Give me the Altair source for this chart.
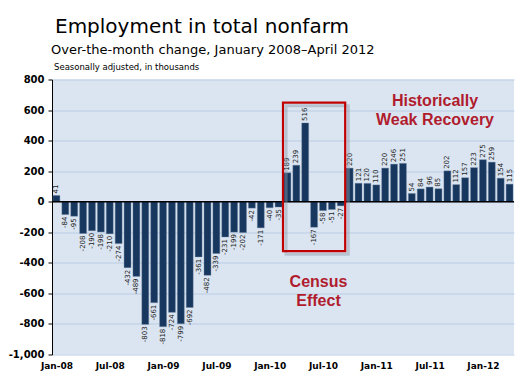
import altair as alt
import pandas as pd

# ---- data ----
months = list(pd.date_range("2008-01-01", periods=52, freq="MS").strftime("%b-%y"))
values = [41, -84, -95, -208, -190, -198, -210, -274, -432, -489, -803, -661,
          -818, -724, -799, -692, -361, -482, -339, -231, -199, -202, -42, -171,
          -40, -35, 189, 239, 516, -167, -58, -51, -27, 220, 121, 120,
          110, 220, 246, 251, 54, 84, 96, 85, 202, 112, 157, 223,
          275, 259, 154, 115]
tick_months = [m for m in months if m.startswith("Jan") or m.startswith("Jul")]
y_ticks = list(range(-1000, 801, 200))
box_months = ["Mar-10", "Sep-10"]
box_values = [-323, 648]

title_text = "Employment in total nonfarm"
subtitle_text = "Over-the-month change, January 2008\u2013April 2012"
note_text = "Seasonally adjusted, in thousands"
census_text = "Census\nEffect"
recovery_text = "Historically\nWeak Recovery"

df = pd.DataFrame({"i": range(len(months)), "month": months, "value": values})
df["label"] = df["value"].astype(str)
one = pd.DataFrame({"k": [0]})

tick_idx = [months.index(m) for m in tick_months]
label_arr = "[" + ",".join("'%s'" % m for m in tick_months) + "]"

W, H = 462, 275
xs = alt.Scale(domain=[-0.5, len(months) - 0.5], nice=False, zero=False)
ys = alt.Scale(domain=[-1000, 800], nice=False)

x_axis = alt.Axis(values=tick_idx, labelExpr=label_arr + "[indexof(" + str(tick_idx) + ", datum.value)]",
                  domain=False, ticks=False, grid=False, labelFont="DejaVu Sans",
                  labelFontWeight="bold", labelFontSize=9, labelColor="black",
                  labelPadding=7, title=None)
y_axis = alt.Axis(values=y_ticks, labelExpr="replace(format(datum.value, ','), '\u2212', '-')",
                  domain=True, domainColor="black", domainWidth=1, ticks=True,
                  tickColor="black", tickSize=4, grid=True, gridColor="#b9cce4",
                  gridWidth=1, labelFont="DejaVu Sans", labelFontWeight="bold",
                  labelFontSize=10, labelColor="black", labelPadding=4, title=None)


def X(field):
    return alt.X(field, scale=xs, axis=x_axis, title=None)


def Y(field):
    return alt.Y(field, scale=ys, axis=y_axis, title=None)


base = alt.Chart(df)

bars = base.transform_calculate(a="datum.i - 0.39", b="datum.i + 0.39").mark_rect(
    color="#17375e", stroke="#6f85a3", strokeWidth=0.4
).encode(x=X("a:Q"), x2="b:Q", y=Y("value:Q"), y2=alt.datum(0))

zero = alt.Chart(one).mark_rule(color="black", strokeWidth=1.5).encode(
    y=alt.YDatum(0, scale=ys, axis=y_axis), x=alt.value(0), x2=alt.value(W)
)

lab_common = dict(angle=270, baseline="middle", fontSize=7, font="DejaVu Sans", color="#1c1c1c")
lab_pos = base.transform_filter("datum.value >= 0").mark_text(align="left", dx=2, **lab_common).encode(
    x=X("i:Q"), y=Y("value:Q"), text="label:N")
lab_neg = base.transform_filter("datum.value < 0").mark_text(align="right", dx=-2, **lab_common).encode(
    x=X("i:Q"), y=Y("value:Q"), text="label:N")

box_df = pd.DataFrame({"m1": [box_months[0]], "m2": [box_months[1]],
                       "v1": [box_values[0]], "v2": [box_values[1]]})
box_df["i1"] = box_df["m1"].map(months.index)
box_df["i2"] = box_df["m2"].map(months.index)

shadow = alt.Chart(box_df).transform_calculate(
    a="datum.i1 - 0.5 + 0.35", b="datum.i2 + 0.5 + 0.35", c="datum.v1 - 20", d="datum.v2 - 20"
).mark_rect(fill=None, stroke="#8e99aa", strokeWidth=3, opacity=0.45).encode(
    x=X("a:Q"), x2="b:Q", y=Y("c:Q"), y2="d:Q")

box = alt.Chart(box_df).transform_calculate(
    a="datum.i1 - 0.5", b="datum.i2 + 0.5"
).mark_rect(fill=None, stroke="#c00000", strokeWidth=2.2).encode(
    x=X("a:Q"), x2="b:Q", y=Y("v1:Q"), y2="v2:Q")

ann_common = dict(font="Liberation Sans", fontWeight="bold", fontSize=16, color="#b01c2e",
                  align="center", baseline="alphabetic", lineBreak="\n", lineHeight=19)
census = alt.Chart(one).mark_text(text=census_text, **ann_common).encode(
    x=alt.value(266.5), y=alt.value(207))
recovery = alt.Chart(one).mark_text(text=recovery_text, **ann_common).encode(
    x=alt.value(383), y=alt.value(26.5))

t1 = alt.Chart(one).mark_text(text=title_text, font="DejaVu Sans", fontSize=20, color="black",
                              align="left", baseline="alphabetic").encode(x=alt.value(3), y=alt.value(-46.5))
t2 = alt.Chart(one).mark_text(text=subtitle_text, font="DejaVu Sans", fontSize=13, color="black",
                              align="left", baseline="alphabetic").encode(x=alt.value(-1), y=alt.value(-25.5))
t3 = alt.Chart(one).mark_text(text=note_text, font="DejaVu Sans", fontSize=8.5, color="black",
                              align="left", baseline="alphabetic").encode(x=alt.value(2), y=alt.value(-9.5))

chart = alt.layer(bars, zero, lab_pos, lab_neg, shadow, box, census, recovery, t1, t2, t3).properties(
    width=W, height=H,
    autosize=alt.AutoSizeParams(type="none"),
    padding={"left": 44, "top": 71.5, "right": 4, "bottom": 22},
    background="white",
).configure_view(fill="#dbe5f1", strokeWidth=0)

chart.save("out.html", embed_options={"renderer": "svg", "actions": False})
